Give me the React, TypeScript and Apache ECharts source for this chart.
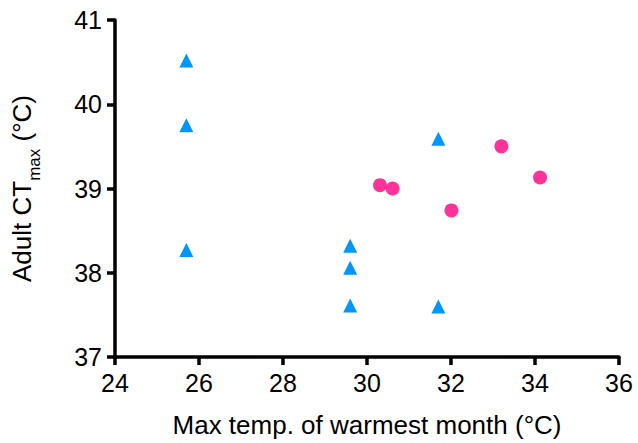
import React, { useEffect, useRef } from "react";
import * as echarts from "echarts";

// Warmest-month maximum temperature (°C) vs. adult critical thermal maximum (°C)
const triangleX = [25.7, 25.7, 25.7, 29.6, 29.6, 29.6, 31.7, 31.7];
const triangleY = [40.52, 39.75, 38.27, 38.32, 38.06, 37.61, 39.59, 37.6];
const circleX = [30.31, 30.61, 32.01, 33.2, 34.12];
const circleY = [39.04, 39.0, 38.74, 39.5, 39.13];

const xTicks = [24, 26, 28, 30, 32, 34, 36];
const yTicks = [37, 38, 39, 40, 41];

const FONT = "Liberation Sans, Arial, Helvetica, sans-serif";

export default function App() {
  const ref = useRef<HTMLDivElement>(null);

  useEffect(() => {
    if (!ref.current) return;
    const chart = echarts.init(ref.current, undefined, { renderer: "svg" });

    const axisCommon = {
      axisLine: { show: true, lineStyle: { color: "#000", width: 3.5 } },
      axisTick: { show: true, length: 8, lineStyle: { color: "#000", width: 3.5 } },
      splitLine: { show: false },
    };

    chart.setOption({
      animation: false,
      backgroundColor: "#fff",
      grid: { left: 115, right: 19, top: 20, bottom: 86, containLabel: false },
      xAxis: {
        type: "value",
        min: xTicks[0],
        max: xTicks[xTicks.length - 1],
        interval: 2,
        ...axisCommon,
        axisLabel: { color: "#000", fontSize: 25, fontFamily: FONT, margin: 13 },
        name: "Max temp. of warmest month (°C)",
        nameLocation: "middle",
        nameGap: 55,
        nameTextStyle: { color: "#000", fontSize: 26, fontFamily: FONT },
      },
      yAxis: {
        type: "value",
        min: yTicks[0],
        max: yTicks[yTicks.length - 1],
        interval: 1,
        ...axisCommon,
        axisLabel: { color: "#000", fontSize: 25, fontFamily: FONT, margin: 13 },
        name: "{main|Adult CT}{sub|max}{main| (°C)}",
        nameLocation: "middle",
        nameGap: 56,
        nameTextStyle: {
          color: "#000",
          fontFamily: FONT,
          rich: {
            main: {
              fontSize: 26,
              lineHeight: 26,
              fontFamily: FONT,
              color: "#000",
              verticalAlign: "top",
            },
            // taller line box pushes the subscript below the main baseline
            sub: {
              fontSize: 17,
              lineHeight: 50,
              fontFamily: FONT,
              color: "#000",
            },
          },
        },
      },
      series: [
        {
          type: "scatter",
          symbol: "triangle",
          symbolSize: [14, 14],
          itemStyle: { color: "#0096FF", opacity: 1 },
          data: triangleX.map((x, i) => [x, triangleY[i]]),
        },
        {
          type: "scatter",
          symbol: "circle",
          symbolSize: 14,
          itemStyle: { color: "#FF3399", opacity: 1 },
          data: circleX.map((x, i) => [x, circleY[i]]),
        },
      ],
    });

    return () => chart.dispose();
  }, []);

  return <div ref={ref} style={{ width: 638, height: 443, position: "absolute", left: 0, top: 0 }} />;
}
